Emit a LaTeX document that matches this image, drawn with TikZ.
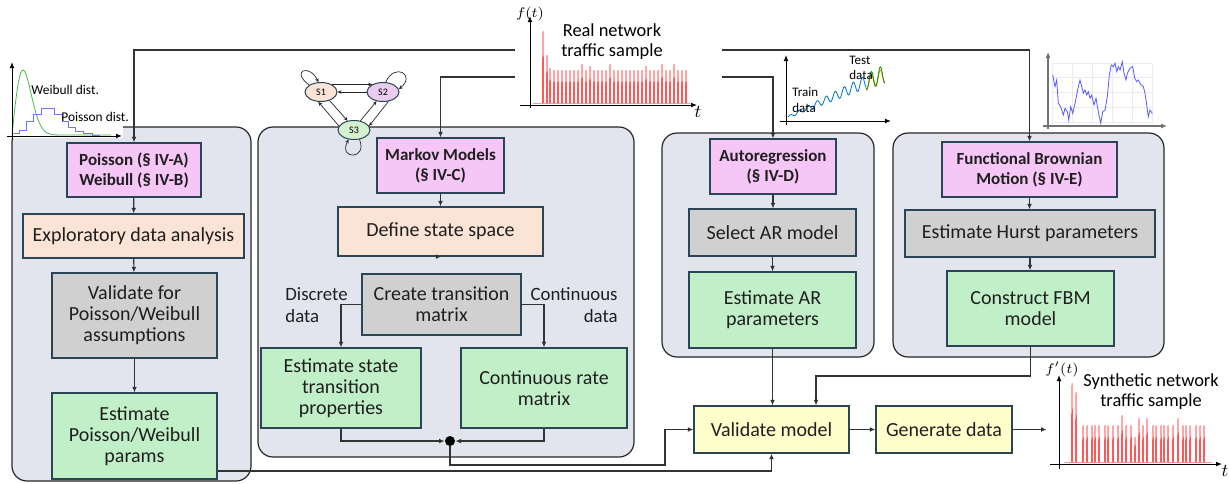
\documentclass[tikz,border=0pt]{standalone}
\usepackage{fontspec}
\setmainfont{Carlito}
\usetikzlibrary{arrows.meta,shapes.geometric,calc}
\definecolor{pinkf}{HTML}{F6C6F7}
\definecolor{peachf}{HTML}{FBE3D6}
\definecolor{grayf}{HTML}{D0D0D0}
\definecolor{greenf}{HTML}{C1F0C8}
\definecolor{yellowf}{HTML}{FFFFCC}
\definecolor{contf}{HTML}{E2E5EE}
\definecolor{edgec}{HTML}{2A4656}
\definecolor{s2f}{HTML}{EBCBEF}
\definecolor{s3f}{HTML}{D5F2CF}
\definecolor{linec}{HTML}{333333}
\newcommand\bxfont{\fontsize{10}{10.5}\selectfont}
\newcommand\hdfont{\bfseries\fontsize{8.5}{10}\selectfont}
\tikzset{
  bx/.style={draw=edgec, line width=0.6pt, align=center, inner sep=0pt, font=\bxfont, text=black!88},
  hdr/.style={bx, fill=pinkf, font=\hdfont},
  cont/.style={draw=black!85, line width=0.6pt, fill=contf, rounded corners=7.5pt},
  arr/.style={draw=linec, line width=0.6pt, -{Latex[length=2.8pt,width=2.4pt]}},
  axis/.style={draw=black, line width=0.5pt, -{Latex[length=3pt,width=2.4pt]}},
  marr/.style={draw=black!85, line width=0.35pt, -{Stealth[length=2pt,width=1.8pt]}},
  st/.style={ellipse, draw=edgec, line width=0.5pt, inner sep=0pt, minimum width=16pt, minimum height=9.5pt, font=\fontsize{5}{6}\selectfont},
  plotbg/.style={fill=white, draw=none, inner sep=0pt},
  lbl/.style={font=\fontsize{9.4}{11}\selectfont, text=black!88, inner sep=0pt},
  spike/.style={draw=red, line width=0.25pt},
}
\begin{document}
\begin{tikzpicture}[x=0.5pt,y=-0.5pt]
\useasboundingbox (0,0) rectangle (1229,483);
% containers
\draw[cont] (12,127) rectangle (251,481);
\draw[cont] (258,127) rectangle (634,457);
\draw[cont] (662,133) rectangle (874,357);
\draw[cont] (893,133) rectangle (1164,357);

% ---------- Weibull / Poisson plot ----------
\fill[white] (0,52) rectangle (123,138);
\draw[green!60!black!70, line width=0.4pt] plot[domain=0:9, samples=80] ({12+11*\x},{135-65*\x*exp((1-\x*\x)/2)});
\draw[blue!55, line width=0.5pt] (12,133) -- (19,133) -- (19,130) -- (26,130) -- (26,121.7) -- (33,121.7) -- (33,114) -- (41,114) -- (41,108.7) -- (54,108.7) -- (54,114) -- (62,114) -- (62,121.7) -- (68,121.7) -- (68,127) -- (75,127) -- (75,131) -- (83,131) -- (83,133) -- (92,133) -- (92,135) -- (100,135);
\draw[axis] (7,136) -- (122,136);
\draw[axis] (12,139) -- (12,62);
\node[anchor=west, font=\fontsize{6.7}{8}\selectfont, inner sep=0pt] (wlab) at (31,90) {Weibull dist.};
\node[anchor=west, font=\fontsize{6.7}{8}\selectfont, inner sep=0pt] (plab) at (61,117) {Poisson dist.};

% ---------- Real traffic plot ----------
\node[plotbg, minimum width=103.5pt, minimum height=59pt] (real) at (618.5,59) {};
\draw[red!40, line width=0.4pt] (533,103) -- (690,103);
\foreach \x/\h in {543/31,547/55,550/68,554/70,558/70,562/70,566/70,570/70,574/70,578/70,582/64,586/70,590/66,594/70,598/70,602/70,606/70,610/64,614/70,618/70,622/70,626/70,630/70,634/70,638/70,642/70,646/66,650/70,654/70,658/70,662/64,666/70,670/70,674/64,678/70,682/70,686/70}
  \draw[spike] (\x-0.7,103) -- (\x,\h) -- (\x+0.7,103);
\draw[axis] (520,105) -- (697,105);
\draw[axis] (530,108) -- (530,16);
\node[font=\fontsize{7}{8}\selectfont, inner sep=0pt] (ft) at (530,14) {$f(t)$};
\node[font=\fontsize{9}{10}\selectfont, inner sep=0pt] (tt) at (698,112) {$t$};
\node[align=center, font=\fontsize{9.2}{10}\selectfont, inner sep=0pt] (realtxt) at (612,42) {Real network\\traffic sample};

% ---------- Train / test plot ----------
\draw[blue!45!cyan!80!black, line width=0.4pt] plot[domain=0:78, samples=160] ({788+\x},{117-0.45*\x-(1+0.07*\x)*sin(\x*40)});
\draw[orange, line width=0.4pt] plot[domain=78:97, samples=40] ({788+\x},{119-0.45*\x-(1+0.07*\x)*sin(\x*40)});
\draw[green!60!black, line width=0.4pt] plot[domain=78:97, samples=40] ({788+\x},{117-0.45*\x-(1.3+0.08*\x)*sin(\x*40)});
\draw[axis] (780,121) -- (891,121);
\draw[axis] (786,125) -- (786,55);
\node[anchor=west, align=left, font=\fontsize{6.5}{7.6}\selectfont, inner sep=0pt] (trainlbl) at (792,100) {Train\\data};
\node[anchor=west, align=left, font=\fontsize{6.5}{7.6}\selectfont, inner sep=0pt] (testlbl) at (849,68) {Test\\data};

% ---------- FBM plot ----------
\foreach \gx in {1052.7,1072.7,1092.7,1112.7,1132.7,1152.7} \draw[black!8, line width=0.3pt] (\gx,63) -- (\gx,123);
\foreach \gy in {63,77,92,107,122} \draw[black!8, line width=0.3pt] (1052,\gy) -- (1153,\gy);
\draw[blue!65, line width=0.4pt] (1052.7,75) -- (1055,86.7) -- (1056.7,80) -- (1058.3,103.3) -- (1060.7,106.7) -- (1063.3,115) -- (1065,108.3) -- (1067.3,111.7) -- (1068.7,120) -- (1070.7,106.7) -- (1072.7,113.3) -- (1075,103.3) -- (1078.3,86.7) -- (1080,80) -- (1081.7,86.7) -- (1083.3,93.3) -- (1085,90) -- (1086.7,95) -- (1088.3,91.7) -- (1090,98.3) -- (1091.7,95) -- (1094,105) -- (1096,98.3) -- (1097.7,108.3) -- (1099.3,116.7) -- (1100.7,123.3) -- (1102.7,111.7) -- (1105,110) -- (1107.3,96.7) -- (1109.3,75) -- (1111.3,65) -- (1113.3,66.7) -- (1115,63.3) -- (1116.7,71.7) -- (1118.3,66.7) -- (1120,70) -- (1122.3,61.7) -- (1124,73.3) -- (1126,80) -- (1127.3,73.3) -- (1130,68.3) -- (1132.7,66.7) -- (1134.7,78.3) -- (1136.7,81.7) -- (1138.3,80) -- (1141,85) -- (1143.3,86.7) -- (1145,93.3) -- (1146.7,105) -- (1148.3,116.7) -- (1150,110) -- (1152.3,113.3);
\draw[draw=black!55, line width=0.8pt, -{Latex[length=3pt,width=2.6pt]}] (1043,126) -- (1167,126);
\draw[draw=black!55, line width=0.8pt, -{Latex[length=3pt,width=2.6pt]}] (1048,129) -- (1048,52);

% ---------- Markov chain icon ----------
\node[st, fill=peachf] (s1) at (321,92) {S1};
\node[st, fill=s2f] (s2) at (383,92) {S2};
\node[st, fill=s3f] (s3) at (354,130) {S3};
\draw[marr] (s1.35) -- (s2.145);
\draw[marr] (s2.west) -- (s1.east);
\draw[marr] (s1.-45) -- (s3.125);
\draw[marr] (s3.165) -- (s1.-105);
\draw[marr] (s3.55) -- (s2.-125);
\draw[marr] (s2.-60) -- (s3.15);
\draw[marr] (s1.150) .. controls (290,70) and (310,64) .. (s1.105);
\draw[marr] (s2.75) .. controls (395,62) and (416,75) .. (s2.10);
\draw[marr] (s3.-60) .. controls (368,160) and (338,160) .. (s3.-120);

% ---------- Left column ----------
\node[hdr, minimum width=67pt, minimum height=27pt] (hdrA) at (134,170) {Poisson (§ IV-A)\\Weibull (§ IV-B)};
\node[bx, fill=peachf, minimum width=110.5pt, minimum height=22pt] (eda) at (133.5,236) {Exploratory data analysis};
\node[bx, fill=grayf, minimum width=82.5pt, minimum height=42.5pt] (valA) at (134.5,315.5) {Validate for\\Poisson/Weibull\\assumptions};
\node[bx, fill=greenf, minimum width=82.5pt, minimum height=43pt] (estA) at (134.5,436) {Estimate\\Poisson/Weibull\\params};

% ---------- Markov column ----------
\node[hdr, minimum width=63.5pt, minimum height=27.5pt] (hdrM) at (440.5,165.5) {Markov Models\\(§ IV-C)};
\node[bx, fill=peachf, minimum width=102.5pt, minimum height=24.5pt] (def) at (440.5,231.5) {Define state space};
\node[bx, fill=grayf, minimum width=79.5pt, minimum height=30.5pt] (ctm) at (441.5,304.5) {Create transition\\matrix};
\node[bx, fill=greenf, minimum width=80pt, minimum height=40pt] (est) at (341,388) {Estimate state\\transition\\properties};
\node[bx, fill=greenf, minimum width=83pt, minimum height=40pt] (crm) at (544,388) {Continuous rate\\matrix};
\node[lbl, anchor=west, align=left] (disc) at (285,305) {Discrete\\data};
\node[lbl, anchor=east, align=right] (contl) at (618,305) {Continuous\\data};
\node[circle, fill=black, inner sep=0pt, minimum size=5pt] (dot) at (450,441) {};

% ---------- AR column ----------
\node[hdr, minimum width=63pt, minimum height=27.5pt] (hdrAR) at (773,166.5) {Autoregression\\(§ IV-D)};
\node[bx, fill=grayf, minimum width=83.5pt, minimum height=23.5pt] (sel) at (772.5,232.5) {Select AR model};
\node[bx, fill=greenf, minimum width=83.5pt, minimum height=38pt] (estAR) at (772.5,310) {Estimate AR\\parameters};

% ---------- FBM column ----------
\node[hdr, minimum width=87.5pt, minimum height=27.5pt] (hdrF) at (1029.5,169.5) {Functional Brownian\\Motion (§ IV-E)};
\node[bx, fill=grayf, minimum width=125pt, minimum height=23.5pt] (hurst) at (1030,233.5) {Estimate Hurst parameters};
\node[bx, fill=greenf, minimum width=83.5pt, minimum height=37.5pt] (cfbm) at (1030.5,308.5) {Construct FBM\\model};

% ---------- Bottom ----------
\node[bx, fill=yellowf, minimum width=77.5pt, minimum height=23.5pt] (val) at (771.5,429.5) {Validate model};
\node[bx, fill=yellowf, minimum width=68pt, minimum height=23.5pt] (gen) at (944,429.5) {Generate data};

% ---------- Synthetic plot ----------
\node[plotbg, minimum width=88pt, minimum height=55pt] (synth) at (1135,422) {};
\draw[red!40, line width=0.4pt] (1064,462) -- (1212,462);
\foreach \x/\h in {1072/383,1076/392,1083/425,1087/425,1092/425,1095/425,1099/425,1105/425,1108/425,1113/425,1118/425,1122/415,1126/425,1131/425,1135/437,1139/418,1143/425,1147/418,1153/425,1156/425,1161/425,1164/425,1168/425,1173/425,1178/418,1183/425,1186/425,1190/425,1196/425,1200/425,1204/425}
  \draw[spike] (\x-0.7,462) -- (\x,\h) -- (\x+0.7,462);
\draw[axis] (1050,464) -- (1222,464);
\draw[axis] (1059,469) -- (1059,375);
\node[font=\fontsize{7}{8}\selectfont, inner sep=0pt] (fpt) at (1062,369) {$f'(t)$};
\node[font=\fontsize{9}{10}\selectfont, inner sep=0pt] (tt2) at (1225,471) {$t$};
\node[align=center, font=\fontsize{9.2}{10}\selectfont, inner sep=0pt] (syntxt) at (1151,392) {Synthetic network\\traffic sample};

% ---------- connectors ----------
\coordinate (yA) at (0,50);
\coordinate (yB) at (0,77);
\coordinate (c1) at (665,465);
\coordinate (c3) at (0,471);
\coordinate (c4) at (0,376);
\coordinate (c5) at (816,0);
\draw[arr] (real.west |- yA) -| (hdrA.north);
\draw[arr] (real.east |- yA) -| (hdrF.north);
\draw[arr] (real.west |- yB) -| (hdrM.north);
\draw[arr] (real.east |- yB) -| (hdrAR.north);

\draw[arr] (hdrA) -- (eda);
\draw[arr] (eda) -- (valA);
\draw[arr] (valA) -- (estA);

\draw[arr] (hdrM) -- (def);
\draw[arr] (def.south) -- (def.south -| ctm.north);
\draw[arr] (ctm.west) -| (est.north);
\draw[arr] (ctm.east) -| (crm.north);
\draw[arr] (est.south) |- (dot);
\draw[arr] (crm.south) |- (dot);
\draw[arr] (dot.south) |- (c1) |- (val.west);

\draw[arr] (hdrAR.south) -- (hdrAR.south |- sel.north);
\draw[arr] (sel) -- (estAR);
\draw[arr] (estAR.south) -- (estAR.south |- val.north);

\draw[arr] (hdrF) -- (hdrF.south |- hurst.north);
\draw[arr] (hurst) -- (hurst.south |- cfbm.north);
\draw[arr] (cfbm.south) |- (c5 |- c4) -- (c5 |- val.north);

\draw[arr] (estA.east |- c3) -| (val.south);
\draw[arr] (val) -- (gen);
\draw[arr] (gen.east) -- (synth.west |- gen.east);
\end{tikzpicture}
\end{document}
